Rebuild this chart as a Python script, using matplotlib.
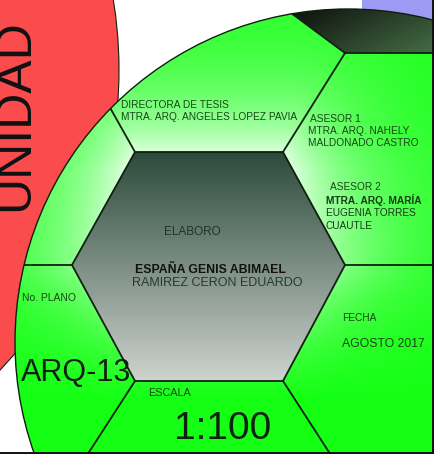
import numpy as np
import matplotlib
matplotlib.use("Agg")
import matplotlib.pyplot as plt
from matplotlib.patches import Circle, Polygon, Rectangle

plt.rcParams['font.family'] = ['Liberation Sans', 'DejaVu Sans']

# texts of the title block
unidad = "UNIDAD"
directora = ["DIRECTORA DE TESIS", "MTRA. ARQ. ANGELES LOPEZ PAVIA"]
asesor1 = ["ASESOR 1", "MTRA. ARQ. NAHELY", "MALDONADO CASTRO"]
asesor2 = ["ASESOR 2", "MTRA. ARQ. MARÍA", "EUGENIA TORRES", "CUAUTLE"]
elaboro = "ELABORO"
autores = ["ESPAÑA GENIS ABIMAEL", "RAMIREZ CERON EDUARDO"]
plano = ["No. PLANO", "ARQ-13"]
fecha = ["FECHA", "AGOSTO 2017"]
escala = ["ESCALA", "1:100"]

# geometry in pixels, y going down
W, H = 442, 455
hexagon = [(135, 152), (283, 152), (345, 265), (283, 381), (135, 381), (72, 265)]
green_c, green_r = (348, 342), 333
red_c, red_r = (-319, 70), 438
cap = [(345, 53), (446, 53), (446, -6), (266, -6)]
spokes = [((135, 152), (95, 81)), ((283, 152), (345, 53)), ((345, 53), (264, -7)),
          ((345, 53), (446, 53)), ((345, 265), (446, 265)), ((72, 265), (-5, 265)),
          ((135, 381), (82, 463)), ((283, 381), (336, 463))]
LINE = "#0f1f0f"
LABEL = "#154815"

fig = plt.figure(figsize=(W / 100, H / 100), dpi=100)
ax = fig.add_axes([0, 0, 1, 1])

yy, xx = np.mgrid[0:H, 0:W] + 0.5


def seg_dist(px, py, a, b):
    dx, dy = b[0] - a[0], b[1] - a[1]
    t = np.clip(((px - a[0]) * dx + (py - a[1]) * dy) / (dx * dx + dy * dy), 0, 1)
    return np.hypot(px - a[0] - t * dx, py - a[1] - t * dy)


# red disk and the blue strip behind the green disk
ax.add_patch(Circle(red_c, red_r, facecolor="#fa4c4c", edgecolor=LINE, lw=0.8, zorder=1))
ax.add_patch(Rectangle((362, -5), 72, 25, facecolor="#9b9bf4", lw=0, zorder=1.5))

# green disk, lighter close to the upper half of the hexagon
d = np.min([seg_dist(xx, yy, hexagon[i], hexagon[(i + 1) % 6]) for i in range(6)], axis=0)
t = 0.85 * np.exp(-d / 70) * np.clip((400 - yy) / 230, 0, 1)
green = np.array([0.08, 1.0, 0.08]) * (1 - t[..., None]) + t[..., None]
im = ax.imshow(green, extent=(0, W, H, 0), interpolation='bilinear', zorder=2)
im.set_clip_path(Circle(green_c, green_r, transform=ax.transData))
ax.add_patch(Circle(green_c, green_r, fill=False, edgecolor=LINE, lw=1.0, zorder=4))

# dark cap on the top right
inside = np.hypot(xx - green_c[0], yy - green_c[1]) < green_r
tc = np.clip((xx - 290) / 140 * 0.6 + (yy - 10) / 45 * 0.4, 0, 1)
dark = np.zeros((H, W, 4))
dark[..., :3] = np.array([0.27, 0.43, 0.27]) * tc[..., None] + np.array([0.05, 0.06, 0.05]) * (1 - tc[..., None])
dark[..., 3] = inside
im = ax.imshow(dark, extent=(0, W, H, 0), interpolation='bilinear', zorder=3)
im.set_clip_path(Polygon(cap, closed=True, transform=ax.transData))

# central hexagon, dark at the top, grey at the bottom
th = np.clip((yy - 152) / (381 - 152), 0, 1)[..., None]
grey = np.array([0.17, 0.29, 0.23]) * (1 - th) + np.array([0.81, 0.83, 0.81]) * th
im = ax.imshow(grey, extent=(0, W, H, 0), interpolation='bilinear', zorder=3)
im.set_clip_path(Polygon(hexagon, closed=True, transform=ax.transData))
ax.add_patch(Polygon(hexagon, closed=True, fill=False, edgecolor=LINE, lw=1.3, zorder=4))

clip_circle = Circle(green_c, green_r, transform=ax.transData)
for a, b in spokes:
    ln, = ax.plot([a[0], b[0]], [a[1], b[1]], color=LINE, lw=1.3, zorder=4)
    ln.set_clip_path(clip_circle)

# texts
ax.text(15, 115, unidad, rotation=90, fontsize=36, color="#111111", ha='center', va='center', zorder=5)
for i, s in enumerate(directora):
    ax.text(121, 105 + 12 * i, s, fontsize=7.3, color=LABEL, va='center', zorder=5)
ax.text(310, 119, asesor1[0], fontsize=7.3, color=LABEL, va='center', zorder=5)
for i, s in enumerate(asesor1[1:]):
    ax.text(308, 131 + 12 * i, s, fontsize=7.3, color=LABEL, va='center', zorder=5)
ax.text(330, 187, asesor2[0], fontsize=7.3, color=LABEL, va='center', zorder=5)
for i, s in enumerate(asesor2[1:]):
    ax.text(326, 200 + 13 * i, s, fontsize=7.3, color="#163a16", va='center', zorder=5,
            fontweight='bold' if i == 0 else 'normal')
ax.text(164, 232, elaboro, fontsize=8.5, color="#1d3526", va='center', zorder=5)
ax.text(210, 270, autores[0], fontsize=8.8, color="#111111", fontweight='bold', ha='center', va='center', zorder=5)
ax.text(217, 283, autores[1], fontsize=9, color="#243a2e", ha='center', va='center', zorder=5)
ax.text(22, 298, plano[0], fontsize=7.5, color=LABEL, va='center', zorder=5)
ax.text(21, 373, plano[1], fontsize=22, color="#102010", va='center', zorder=5)
ax.text(342, 318, fecha[0], fontsize=7.3, color=LABEL, va='center', zorder=5)
ax.text(342, 344, fecha[1], fontsize=8.8, color=LABEL, va='center', zorder=5)
ax.text(148, 393, escala[0], fontsize=7.8, color=LABEL, va='center', zorder=5)
ax.text(223, 429, escala[1], fontsize=28, color="#102010", ha='center', va='center', zorder=5)

# frame on the right and at the bottom
ax.add_patch(Rectangle((433.5, -10), 20, H + 20, facecolor="white", lw=0, zorder=7))
ax.add_patch(Rectangle((-10, 453.5), W + 20, 10, facecolor="white", lw=0, zorder=7))
ax.plot([432.5, 432.5], [-5, 453], color="#111111", lw=1.4, zorder=8)
ax.plot([-5, 433], [452.5, 452.5], color="#111111", lw=1.4, zorder=8)

ax.set_xlim(0, W)
ax.set_ylim(H, 0)
ax.set_aspect('auto')
ax.axis('off')
fig.savefig("out.png", dpi=100)
